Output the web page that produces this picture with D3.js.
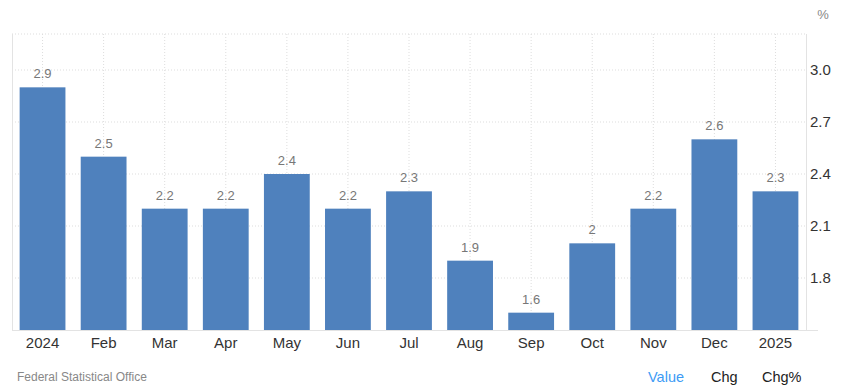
<!DOCTYPE html>
<html>
<head>
<meta charset="utf-8">
<script src="https://cdn.jsdelivr.net/npm/d3@7"></script>
<style>
  body { margin: 0; background: #fff; font-family: "Liberation Sans", Arial, sans-serif; }
</style>
</head>
<body>
<div class="chart-container"></div>
<script>
//! DATA
const months = ['2024', 'Feb', 'Mar', 'Apr', 'May', 'Jun', 'Jul', 'Aug', 'Sep', 'Oct', 'Nov', 'Dec', '2025']
const values = [2.9, 2.5, 2.2, 2.2, 2.4, 2.2, 2.3, 1.9, 1.6, 2, 2.2, 2.6, 2.3]
const yTicks = [1.8, 2.1, 2.4, 2.7, 3.0]
const footerLinks = ['Value', 'Chg', 'Chg%']

//! CONSTS
const WIDTH = 848
const HEIGHT = 391
const LEFT = 12
const RIGHT = 806
const TOP = 34
const BOTTOM = 330

//! SVG
const svg = d3.select('.chart-container')
  .append('svg')
  .attr('width', WIDTH)
  .attr('height', HEIGHT)

//! SCALES
const xScale = d3.scaleBand()
  .domain(months)
  .range([LEFT, RIGHT])
  .paddingInner(0.25)
  .paddingOuter(0.125)

const yScale = d3.scaleLinear()
  .domain([1.5, 3.0])
  .range([BOTTOM, 70])

// grid
const grid = svg.append('g')
grid.selectAll('line.h')
  .data(yTicks)
  .enter()
  .append('line')
  .attr('x1', LEFT).attr('x2', RIGHT)
  .attr('y1', d => yScale(d)).attr('y2', d => yScale(d))
  .attr('stroke', '#ddd')
  .attr('stroke-dasharray', '1,2')
grid.append('line')
  .attr('x1', LEFT).attr('x2', RIGHT)
  .attr('y1', TOP).attr('y2', TOP)
  .attr('stroke', '#ddd')
  .attr('stroke-dasharray', '1,2')
grid.selectAll('line.v')
  .data(months)
  .enter()
  .append('line')
  .attr('x1', d => xScale(d) + xScale.bandwidth() / 2)
  .attr('x2', d => xScale(d) + xScale.bandwidth() / 2)
  .attr('y1', TOP).attr('y2', BOTTOM)
  .attr('stroke', '#ddd')
  .attr('stroke-dasharray', '1,2')

// frame lines
svg.append('line')
  .attr('x1', LEFT + 0.5).attr('x2', LEFT + 0.5)
  .attr('y1', TOP).attr('y2', BOTTOM)
  .attr('stroke', '#e3e3e3')
svg.append('line')
  .attr('x1', RIGHT + 0.5).attr('x2', RIGHT + 0.5)
  .attr('y1', TOP).attr('y2', BOTTOM)
  .attr('stroke', '#e3e3e3')

//! BARS
svg.selectAll('rect.bar')
  .data(values)
  .enter()
  .append('rect')
  .attr('class', 'bar')
  .attr('x', (d, i) => xScale(months[i]))
  .attr('y', d => yScale(d))
  .attr('width', xScale.bandwidth())
  .attr('height', d => BOTTOM - yScale(d))
  .attr('fill', '#4f81bd')

// value labels
svg.selectAll('text.val')
  .data(values)
  .enter()
  .append('text')
  .attr('x', (d, i) => xScale(months[i]) + xScale.bandwidth() / 2)
  .attr('y', d => yScale(d) - 9)
  .attr('text-anchor', 'middle')
  .attr('font-size', 13)
  .attr('fill', '#777')
  .text(d => d)

//! AXIS
const xAxis = d3.axisBottom(xScale).tickSize(0).tickPadding(7)
const gx = svg.append('g')
  .attr('transform', `translate(0,${BOTTOM})`)
  .call(xAxis)
gx.select('.domain').attr('stroke', '#e3e3e3').attr('d', `M${LEFT},0.5H${RIGHT + 12}`)
gx.selectAll('text').attr('font-size', 15).attr('fill', '#333').attr('font-family', '"Liberation Sans", Arial, sans-serif')

const yAxis = d3.axisRight(yScale).tickValues(yTicks).tickSize(0).tickPadding(4).tickFormat(d3.format('.1f'))
const gy = svg.append('g')
  .attr('transform', `translate(${RIGHT},0)`)
  .call(yAxis)
gy.select('.domain').remove()
gy.selectAll('text').attr('font-size', 15).attr('fill', '#333').attr('font-family', '"Liberation Sans", Arial, sans-serif')

svg.append('text')
  .attr('x', 823).attr('y', 19)
  .attr('text-anchor', 'middle')
  .attr('font-size', 13)
  .attr('fill', '#888')
  .text('%')

//! FOOTER
svg.append('text')
  .attr('x', 17).attr('y', 381)
  .attr('font-size', 12)
  .attr('fill', '#888')
  .text('Federal Statistical Office')

const linkX = [648, 711, 762]
svg.selectAll('text.link')
  .data(footerLinks)
  .enter()
  .append('text')
  .attr('x', (d, i) => linkX[i])
  .attr('y', 382)
  .attr('font-size', 14.5)
  .attr('fill', (d, i) => i === 0 ? '#3d9bf5' : '#222')
  .text(d => d)
</script>
</body>
</html>
